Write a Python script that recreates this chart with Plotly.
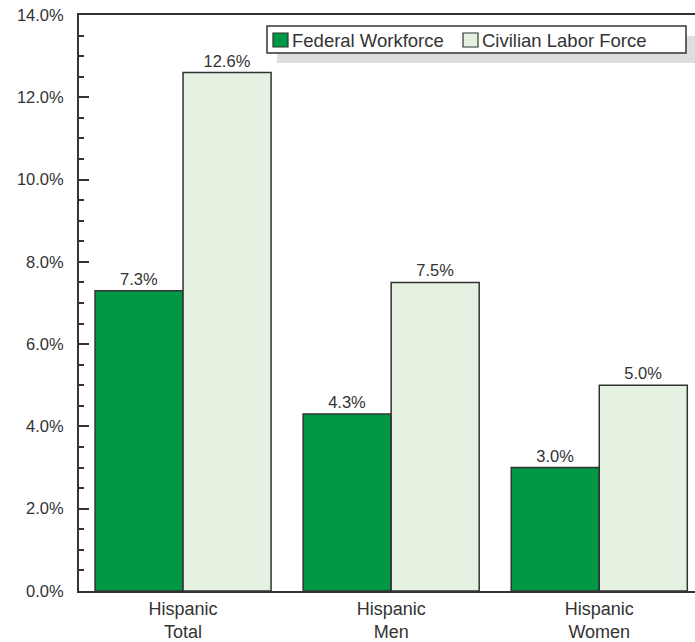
import plotly.graph_objects as go

categories = ["Hispanic<br>Total", "Hispanic<br>Men", "Hispanic<br>Women"]
federal = [7.3, 4.3, 3.0]
civilian = [12.6, 7.5, 5.0]
series_names = ["Federal Workforce", "Civilian Labor Force"]
y_ticks = [0, 2, 4, 6, 8, 10, 12, 14]

GREEN = "#009845"
LIGHT = "#e6f2e1"
DARK = "#333333"
FONT = "Liberation Sans, Arial, sans-serif"

W, H = 695, 642
L, T, B, R = 79, 15, 51, 0
PW, PH = W - L - R, H - T - B


def px(x):
    return (x - L) / PW


def py(y):
    return (H - B - y) / PH


fig = go.Figure()
for name, vals, col in [(series_names[0], federal, GREEN), (series_names[1], civilian, LIGHT)]:
    fig.add_trace(go.Bar(
        x=categories, y=vals, name=name,
        marker=dict(color=col, line=dict(color=DARK, width=1.5)),
        texttemplate="%{y:.1f}%", textposition="outside",
        textfont=dict(size=16.5, color=DARK, family=FONT),
        cliponaxis=False, showlegend=False,
    ))

# legend (manual)
shapes = [
    dict(type="rect", xref="paper", yref="paper", x0=px(277), x1=px(700), y0=py(63), y1=py(36),
         fillcolor="#dedede", line=dict(width=0), layer="above"),
    dict(type="rect", xref="paper", yref="paper", x0=px(267), x1=px(686), y0=py(53), y1=py(26),
         fillcolor="white", line=dict(color=DARK, width=1.5), layer="above"),
    dict(type="rect", xref="paper", yref="paper", x0=px(273), x1=px(288), y0=py(47), y1=py(33),
         fillcolor=GREEN, line=dict(color=DARK, width=1.2), layer="above"),
    dict(type="rect", xref="paper", yref="paper", x0=px(463), x1=px(478), y0=py(47), y1=py(33),
         fillcolor=LIGHT, line=dict(color=DARK, width=1.2), layer="above"),
]
annotations = [
    dict(text=series_names[0], xref="paper", yref="paper", x=px(290), y=py(40), xanchor="left",
         yanchor="middle", showarrow=False, font=dict(size=18.5, color=DARK, family=FONT)),
    dict(text=series_names[1], xref="paper", yref="paper", x=px(480), y=py(40), xanchor="left",
         yanchor="middle", showarrow=False, font=dict(size=18.5, color=DARK, family=FONT)),
]

fig.update_layout(
    width=W, height=H, margin=dict(l=L, r=R, t=T, b=B, pad=0),
    paper_bgcolor="white", plot_bgcolor="white",
    barmode="group", bargap=0.154, bargroupgap=0,
    font=dict(family=FONT, color=DARK),
    shapes=shapes, annotations=annotations,
    showlegend=False,
)
fig.update_xaxes(
    range=[-0.5, 2.46], showline=True, linecolor=DARK, linewidth=2, mirror=True,
    ticks="", showgrid=False, tickfont=dict(size=18, color=DARK, family=FONT),
    fixedrange=True,
)
fig.update_yaxes(
    range=[0, 14], tickvals=y_ticks, ticktext=[f"{v:.1f}%" for v in y_ticks],
    showline=True, linecolor=DARK, linewidth=2, ticks="inside", ticklen=10,
    tickcolor=DARK, tickwidth=2, showgrid=False, zeroline=False,
    minor=dict(dtick=0.5, ticks="inside", ticklen=5, tickcolor=DARK, tickwidth=1.5, showgrid=False),
    tickfont=dict(size=16.5, color=DARK, family=FONT), ticklabelstandoff=10,
    fixedrange=True,
)

fig.write_html(
    "out.html",
    config={"displayModeBar": False},
    post_script="document.body.style.margin='0';document.body.style.overflow='hidden';",
)
